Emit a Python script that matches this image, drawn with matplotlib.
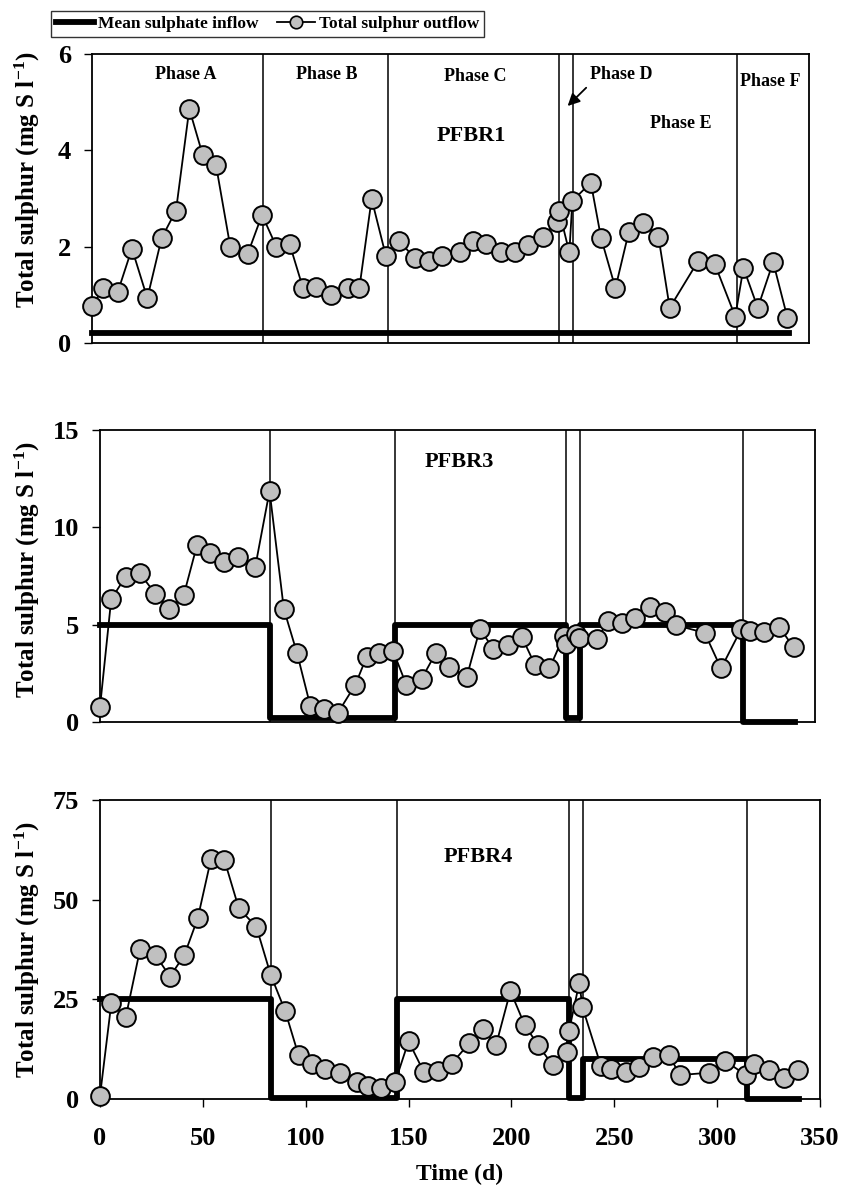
import numpy as np
import matplotlib.pyplot as plt
from matplotlib.lines import Line2D

plt.rcParams['font.family'] = ['Liberation Serif', 'DejaVu Serif']
plt.rcParams['font.weight'] = 'bold'
plt.rcParams['mathtext.fontset'] = 'custom'
plt.rcParams['mathtext.rm'] = 'Liberation Serif:bold'
plt.rcParams['mathtext.default'] = 'rm'

# sampling days (d)
days = [0, 5.5, 12.5, 19.5, 27, 34, 41, 47.5, 54, 60.5, 67.5, 76, 83, 90, 96.5,
        103, 109.5, 116.5, 125, 130.5, 136.5, 143.5, 150, 157.5, 164.5, 171,
        179.5, 186, 192.5, 199.5, 206.5, 213, 220, 227, 228, 233, 234.5, 243.5,
        248.5, 255.5, 262, 269, 276.5, 282, 296, 304, 314, 318, 325, 332.5, 339.5]

# total sulphur outflow (mg S/l)
pfbr1_out = [0.76, 1.14, 1.05, 1.96, 0.93, 2.18, 2.75, 4.86, 3.91, 3.70, 2.00, 1.85,
             2.66, 2.00, 2.05, 1.14, 1.17, 1.00, 1.14, 1.14, 2.99, 1.80, 2.12, 1.76,
             1.71, 1.81, 1.89, 2.11, 2.05, 1.89, 1.89, 2.03, 2.21, 2.52, 2.75, 1.88,
             2.95, 3.33, 2.18, 1.14, 2.30, 2.50, 2.21, 0.73, 1.71, 1.64, 0.55, 1.56,
             0.73, 1.68, 0.52]
pfbr3_out = [0.77, 6.31, 7.46, 7.63, 6.60, 5.80, 6.52, 9.09, 8.66, 8.23, 8.49, 7.97,
             11.87, 5.80, 3.52, 0.81, 0.69, 0.48, 1.92, 3.34, 3.52, 3.64, 1.90, 2.23,
             3.57, 2.83, 2.31, 4.80, 3.74, 3.95, 4.37, 2.92, 2.75, 4.42, 4.03, 4.51,
             4.29, 4.25, 5.20, 5.06, 5.32, 5.92, 5.63, 4.97, 4.58, 2.75, 4.80, 4.68,
             4.60, 4.89, 3.83]
pfbr4_out = [0.8, 24.0, 20.5, 37.6, 36.1, 30.7, 36.1, 45.3, 60.3, 59.9, 47.8, 43.2,
             31.1, 22.1, 11.0, 8.9, 7.4, 6.4, 4.3, 3.3, 2.7, 4.3, 14.5, 6.7, 7.1,
             8.9, 14.0, 17.5, 13.5, 27.1, 18.5, 13.5, 8.5, 11.9, 17.1, 29.2, 23.1,
             8.3, 7.4, 6.8, 8.1, 10.6, 11.0, 6.0, 6.6, 9.5, 6.0, 8.9, 7.3, 5.2, 7.3]

# phase boundaries (d) and mean sulphate inflow per phase
phase_edges = [0, 83.3, 144.3, 228, 235, 314.7, 340]
pfbr1_in = [0.2, 0.2, 0.2, 0.2, 0.2, 0.2]
pfbr3_in = [5, 0.2, 5, 0.2, 5, 0]
pfbr4_in = [25, 0.2, 25, 0.2, 10, 0]

reactors = ['PFBR1', 'PFBR3', 'PFBR4']
y_max = [6, 15, 75]
y_step = [2, 5, 25]

W, H = 842, 1199
fig = plt.figure(figsize=(W / 100, H / 100), dpi=100)


def px_axes(left, right, top, bottom):
    return fig.add_axes([left / W, 1 - bottom / H, (right - left) / W, (bottom - top) / H])


axes = [px_axes(92, 809, 54, 343), px_axes(100, 815, 430, 722), px_axes(100, 820, 800, 1099)]
outs = [pfbr1_out, pfbr3_out, pfbr4_out]
ins = [pfbr1_in, pfbr3_in, pfbr4_in]
name_pos = [(185, 4.29), (176, 13.37), (184, 60.7)]
label_x = [-50, -58, -58]   # px from the left spine
label_y = [0.565, 0.52, 0.5]

for i, ax in enumerate(axes):
    for x in phase_edges[1:-1]:
        ax.axvline(x, color='black', lw=1.1, zorder=1)
    ax.step(phase_edges, ins[i] + [ins[i][-1]], where='post', color='black', lw=4.2,
            zorder=2, clip_on=False)
    ax.plot(days, outs[i], color='black', lw=1.3, marker='o', ms=13.5,
            mfc='#c0c0c0', mec='black', mew=1.4, zorder=3, clip_on=False)
    ax.set_xlim(0, 350)
    ax.set_ylim(0, y_max[i])
    ax.set_yticks(np.arange(0, y_max[i] + 1, y_step[i]))
    ax.tick_params(axis='y', direction='out', length=6, width=1, pad=9, labelsize=19)
    for s in ax.spines.values():
        s.set_linewidth(1.3)
    ax.set_ylabel('Total sulphur (mg S l$^{-1}$)', fontsize=18, fontweight='bold')
    ax.yaxis.set_label_coords(label_x[i] / (ax.get_position().width * W), label_y[i])
    ax.text(name_pos[i][0], name_pos[i][1], reactors[i], fontsize=16, fontweight='bold',
            ha='center', va='center')
    if i < 2:
        ax.set_xticks([])
    else:
        ax.set_xticks(np.arange(0, 351, 50))
        ax.tick_params(axis='x', direction='out', length=6, width=1, pad=14, labelsize=19)
        ax.set_xlabel('Time (d)', fontsize=17, fontweight='bold', labelpad=10)

# phase labels on the top panel
top = axes[0]
phase_labels = [('Phase A', 46, 5.57), ('Phase B', 114.4, 5.57), ('Phase C', 187, 5.53),
                ('Phase D', 258.5, 5.57), ('Phase E', 287.5, 4.56), ('Phase F', 331, 5.43)]
for lab, x, y in phase_labels:
    top.text(x, y, lab, fontsize=13, fontweight='bold', ha='center', va='center')
top.annotate('', xy=(231.2, 4.88), xytext=(242.2, 5.34),
             arrowprops=dict(arrowstyle='-|>', color='black', lw=1.3, mutation_scale=18))

handles = [Line2D([], [], color='black', lw=4.2),
           Line2D([], [], color='black', lw=1.3, marker='o', ms=9,
                  mfc='#c0c0c0', mec='black', mew=1.2)]
leg = fig.legend(handles, ['Mean sulphate inflow', 'Total sulphur outflow'],
                 loc='center', bbox_to_anchor=(267.5 / W, 1 - 24 / H), ncol=2,
                 frameon=True, fancybox=False, edgecolor='black',
                 handlelength=2.2, handletextpad=0.2, columnspacing=1.1,
                 borderpad=0.3, prop={'weight': 'bold', 'size': 12.5})
leg.get_frame().set_linewidth(1.0)

fig.savefig('out.png', dpi=100)
